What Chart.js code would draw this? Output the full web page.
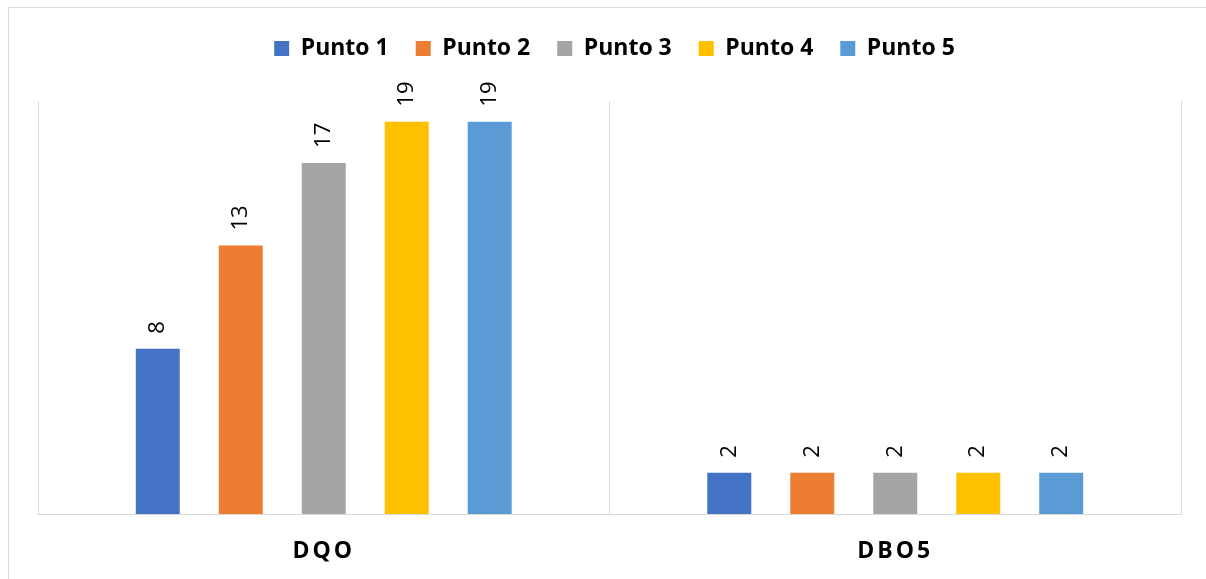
<!DOCTYPE html>
<html>
<head>
<meta charset="utf-8">
<script src="https://cdn.jsdelivr.net/npm/chart.js@4/dist/chart.umd.min.js"></script>
<style>
  html, body { margin: 0; padding: 0; background: #ffffff; }
  #wrap { width: 1206px; height: 579px; position: relative; }
</style>
</head>
<body>
<div id="wrap"><canvas id="c" width="1206" height="579"></canvas></div>
<script>
const categories = ["DQO", "DBO5"];
const seriesNames = ["Punto 1", "Punto 2", "Punto 3", "Punto 4", "Punto 5"];
const punto1 = [8, 2];
const punto2 = [13, 2];
const punto3 = [17, 2];
const punto4 = [19, 2];
const punto5 = [19, 2];
const seriesValues = [punto1, punto2, punto3, punto4, punto5];
const seriesColors = ["#4472C4", "#ED7D31", "#A5A5A5", "#FFC000", "#5B9BD5"];
const yMax = 20;

const FONT = "'Open Sans', 'Liberation Sans', sans-serif";

const framePlugin = {
  id: 'frame',
  beforeDraw(chart) {
    const ctx = chart.ctx;
    ctx.save();
    ctx.fillStyle = '#ffffff';
    ctx.fillRect(0, 0, chart.width, chart.height);
    ctx.strokeStyle = '#d9d9d9';
    ctx.lineWidth = 1;
    ctx.strokeRect(8.5, 7.5, 1400, 800);
    ctx.restore();
    const s = chart.scales.x;
    if (s && !s._lsWrapped) {
      const orig = s.drawLabels;
      s.drawLabels = function (area) {
        const c = this.ctx;
        c.save();
        c.letterSpacing = '3px';
        orig.call(this, area);
        c.restore();
      };
      s._lsWrapped = true;
    }
  }
};

const legendSizePlugin = {
  id: 'legendSize',
  beforeInit(chart) {
    const lg = chart.legend;
    if (lg) {
      const origFit = lg.fit;
      lg.fit = function () {
        origFit.call(this);
        this.height = 91;
      };
    }
  },
  afterLayout(chart) {
    const lg = chart.legend;
    if (lg) {
      lg.left += 5;
      lg.right += 5;
    }
  }
};

const labelPlugin = {
  id: 'barLabels',
  afterDatasetsDraw(chart) {
    const ctx = chart.ctx;
    ctx.save();
    ctx.fillStyle = '#000000';
    ctx.font = "22px " + FONT;
    ctx.textAlign = 'left';
    ctx.textBaseline = 'middle';
    chart.data.datasets.forEach((ds, di) => {
      const meta = chart.getDatasetMeta(di);
      meta.data.forEach((el, i) => {
        ctx.save();
        ctx.translate(el.x, el.y - 15);
        ctx.rotate(-Math.PI / 2);
        ctx.fillText(String(ds.data[i]), 0, 0);
        ctx.restore();
      });
    });
    ctx.restore();
  }
};

new Chart(document.getElementById('c'), {
  type: 'bar',
  data: {
    labels: categories,
    datasets: seriesNames.map((name, i) => ({
      label: name,
      data: seriesValues[i],
      backgroundColor: seriesColors[i],
      borderWidth: 0,
      categoryPercentage: 0.726,
      barPercentage: 0.53
    }))
  },
  options: {
    responsive: false,
    animation: false,
    layout: { padding: { top: 10, left: 38, right: 25, bottom: 0 } },
    plugins: {
      legend: {
        position: 'top',
        labels: {
          boxWidth: 15,
          boxHeight: 15,
          padding: 27,
          color: '#000000',
          font: { family: FONT, size: 23, weight: 'bold' }
        }
      },
      tooltip: { enabled: false }
    },
    scales: {
      x: {
        grid: { display: true, offset: true, color: '#d9d9d9', lineWidth: 1, drawTicks: false },
        border: { display: true, color: '#d9d9d9', width: 1 },
        ticks: {
          padding: 24,
          color: '#000000',
          font: { family: FONT, size: 23, weight: 'bold' }
        },
        afterFit(scale) { scale.height = 65; }
      },
      y: {
        display: false,
        min: 0,
        max: yMax,
        grid: { display: false }
      }
    }
  },
  plugins: [framePlugin, legendSizePlugin, labelPlugin]
});
</script>
</body>
</html>
